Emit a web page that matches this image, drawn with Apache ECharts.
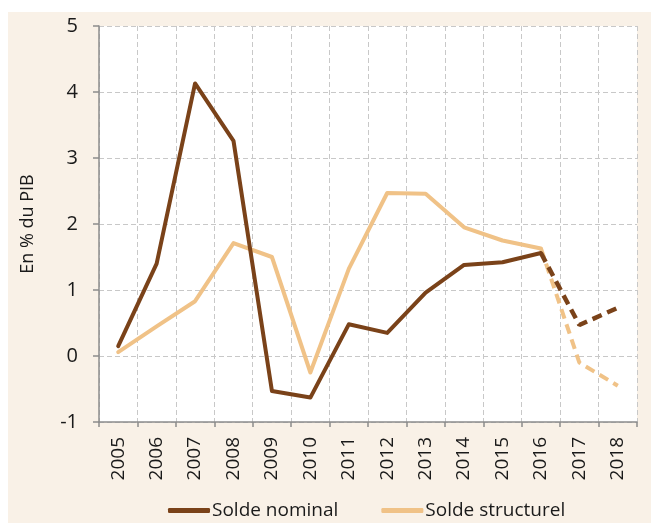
<!DOCTYPE html>
<html>
<head>
<meta charset="utf-8">
<script src="https://cdn.jsdelivr.net/npm/echarts@6/dist/echarts.min.js"></script>
<style>
  html, body { margin: 0; padding: 0; background: #ffffff; }
  #chart { width: 651px; height: 523px; }
</style>
</head>
<body>
<div id="chart"></div>
<script>
// Years on the horizontal axis
const years = ['2005','2006','2007','2008','2009','2010','2011','2012','2013','2014','2015','2016','2017','2018'];

// Budget balance, in % of GDP (2017-2018 are forecasts)
const soldeNominal    = [0.15, 1.40, 4.13, 3.26, -0.53, -0.63, 0.48, 0.35, 0.96, 1.38, 1.42, 1.56, 0.47, 0.73];
const soldeStructurel = [0.06, 0.45, 0.83, 1.71, 1.50, -0.25, 1.32, 2.47, 2.46, 1.95, 1.75, 1.63, -0.10, -0.45];

// Index of the last observed year; later points are drawn dashed
const lastActual = 11;

const yTicks = { min: -1, max: 5, interval: 1 };

const NOMINAL_COLOR = '#7a4219';
const STRUCT_COLOR = '#f0c287';
const FONT = '"Open Sans", "Liberation Sans", sans-serif';

function actualPart(arr) {
  return arr.map((v, i) => (i <= lastActual ? v : null));
}
function forecastPart(arr) {
  return arr.map((v, i) => (i >= lastActual ? v : null));
}

const chart = echarts.init(document.getElementById('chart'), null, { renderer: 'canvas' });

const lineBase = {
  type: 'line',
  symbol: 'none',
  smooth: false,
  xAxisIndex: 0,
  connectNulls: false,
  z: 5
};

chart.setOption({
  backgroundColor: '#ffffff',
  animation: false,
  graphic: [{
    type: 'rect',
    left: 8, top: 12,
    shape: { width: 643, height: 511 },
    style: { fill: '#f9f1e7' },
    z: -10, silent: true
  }],
  grid: {
    left: 99, top: 26, width: 538, height: 396,
    show: true, backgroundColor: '#ffffff', borderWidth: 0
  },
  legend: {
    left: 163, top: 496,
    itemWidth: 42, itemHeight: 5, itemGap: 43,
    icon: 'roundRect',
    textStyle: { fontFamily: FONT, fontSize: 19, color: '#1a1a1a', padding: [0, 0, 0, -3] },
    data: ['Solde nominal', 'Solde structurel']
  },
  xAxis: [{
    // year labels along the bottom
    type: 'category', data: years, position: 'bottom', boundaryGap: true,
    axisLine: { show: false }, axisTick: { show: false },
    axisLabel: { rotate: 90, margin: 15, fontFamily: FONT, fontSize: 19, color: '#1a1a1a' },
    splitLine: { show: true, lineStyle: { color: '#c8c8c8', type: [5, 3], width: 1 } }
  }, {
    // zero line with its ticks
    type: 'category', data: years, boundaryGap: true, position: 'bottom',
    axisLine: { show: true, onZero: true, lineStyle: { color: '#8c8c8c', width: 1.5 } },
    axisTick: { show: true, length: 5, lineStyle: { color: '#8c8c8c', width: 1.5 } },
    axisLabel: { show: false },
    splitLine: { show: false }
  }],
  yAxis: {
    type: 'value', min: yTicks.min, max: yTicks.max, interval: yTicks.interval,
    name: 'En % du PIB', nameLocation: 'middle', nameGap: 62, nameRotate: 90,
    nameTextStyle: { fontFamily: FONT, fontSize: 18, color: '#1a1a1a' },
    axisLine: { show: true, lineStyle: { color: '#8c8c8c', width: 1.5 } },
    axisTick: { show: true, length: 6, lineStyle: { color: '#8c8c8c', width: 1.5 } },
    axisLabel: { margin: 21, fontFamily: FONT, fontSize: 20, color: '#1a1a1a' },
    splitLine: { show: true, lineStyle: { color: '#c8c8c8', type: [5, 3], width: 1 } }
  },
  series: [
    Object.assign({}, lineBase, {
      name: 'Solde nominal', data: actualPart(soldeNominal), z: 6,
      itemStyle: { color: NOMINAL_COLOR },
      lineStyle: { color: NOMINAL_COLOR, width: 4, cap: 'round', join: 'round' }
    }),
    Object.assign({}, lineBase, {
      name: 'Solde structurel', data: actualPart(soldeStructurel), z: 5,
      itemStyle: { color: STRUCT_COLOR },
      lineStyle: { color: STRUCT_COLOR, width: 4, cap: 'round', join: 'round' }
    }),
    Object.assign({}, lineBase, {
      name: 'Solde nominal', data: forecastPart(soldeNominal), z: 6,
      itemStyle: { color: NOMINAL_COLOR },
      lineStyle: { color: NOMINAL_COLOR, width: 4.5, type: [10, 6] }
    }),
    Object.assign({}, lineBase, {
      name: 'Solde structurel', data: forecastPart(soldeStructurel), z: 5,
      itemStyle: { color: STRUCT_COLOR },
      lineStyle: { color: STRUCT_COLOR, width: 4, type: [10, 6] }
    })
  ]
});
</script>
</body>
</html>
